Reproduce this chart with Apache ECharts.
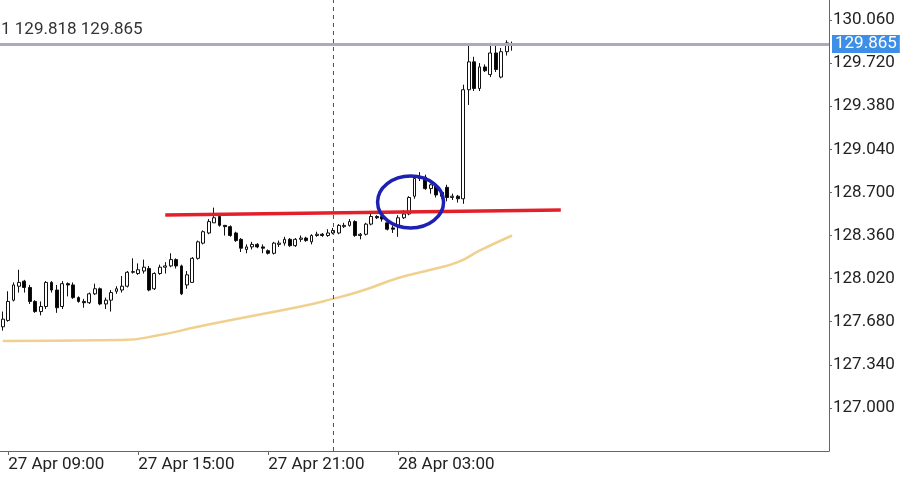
<!DOCTYPE html>
<html><head><meta charset="utf-8">
<script src="https://cdn.jsdelivr.net/npm/echarts@6/dist/echarts.min.js"></script>
<style>html,body{margin:0;padding:0;background:#fff}#c{width:914px;height:491px}</style>
</head><body><div id="c"></div>
<script>
// 15-minute candles starting 27 Apr 08:45
const startLabel = '27 Apr 08:45';
const slotCount = 153;
const tickLabels = ['27 Apr 09:00', '27 Apr 15:00', '27 Apr 21:00', '28 Apr 03:00'];
const daySeparator = '28 Apr 00:00';
const opens  = [127.64,127.69,127.85,127.96,128.00,127.95,127.84,127.76,127.80,127.99,127.93,127.80,127.98,127.97,127.87,127.84,127.83,127.90,127.94,127.82,127.85,127.92,127.93,127.96,128.07,128.06,128.08,128.10,127.94,128.06,128.11,128.12,128.17,128.12,127.97,127.99,128.18,128.30,128.38,128.46,128.51,128.44,128.43,128.38,128.33,128.25,128.27,128.29,128.27,128.24,128.22,128.29,128.30,128.33,128.28,128.33,128.34,128.31,128.36,128.37,128.36,128.38,128.38,128.43,128.44,128.47,128.36,128.37,128.45,128.51,128.51,128.46,128.42,128.44,128.50,128.53,128.67,128.81,128.82,128.73,128.75,128.70,128.74,128.66,128.67,128.65,129.51,129.73,129.52,129.69,129.63,129.80,129.61,129.81,129.86];
const closes = [127.70,127.84,127.97,127.99,127.95,127.84,127.76,127.80,127.99,127.93,127.79,127.98,127.97,127.87,127.84,127.83,127.90,127.94,127.82,127.85,127.91,127.94,127.96,128.07,128.075,128.09,128.11,127.93,128.06,128.11,128.12,128.17,128.12,127.90,128.05,128.18,128.31,128.39,128.47,128.50,128.44,128.43,128.36,128.32,128.26,128.27,128.29,128.27,128.26,128.22,128.30,128.30,128.33,128.28,128.33,128.34,128.32,128.36,128.37,128.36,128.38,128.40,128.44,128.44,128.47,128.36,128.37,128.45,128.51,128.50,128.49,128.41,128.41,128.50,128.53,128.66,128.81,128.82,128.73,128.76,128.68,128.67,128.66,128.67,128.65,129.51,129.73,129.52,129.69,129.66,129.80,129.67,129.81,129.88,129.865];
const lows   = [127.61,127.68,127.84,127.91,127.91,127.82,127.75,127.73,127.78,127.91,127.75,127.78,127.88,127.86,127.83,127.79,127.82,127.89,127.81,127.78,127.76,127.90,127.91,127.95,128.06,128.05,128.06,127.92,127.93,128.05,128.06,128.11,128.10,127.89,127.94,127.99,128.17,128.29,128.37,128.46,128.43,128.36,128.35,128.31,128.23,128.22,128.25,128.26,128.22,128.21,128.21,128.27,128.28,128.27,128.27,128.31,128.31,128.29,128.35,128.35,128.35,128.37,128.37,128.42,128.43,128.35,128.33,128.36,128.44,128.49,128.47,128.40,128.38,128.35,128.49,128.52,128.65,128.79,128.72,128.69,128.66,128.65,128.63,128.64,128.62,128.61,129.39,129.50,129.50,129.65,129.61,129.65,129.60,129.78,129.818];
const highs  = [127.76,127.92,127.99,128.09,128.01,127.97,127.85,127.84,128.00,128.00,127.97,128.00,127.99,127.99,127.88,127.86,127.91,127.98,127.95,127.87,127.93,127.96,128.04,128.08,128.18,128.14,128.17,128.12,128.07,128.13,128.15,128.22,128.18,128.13,128.08,128.19,128.32,128.40,128.49,128.58,128.53,128.44,128.44,128.39,128.34,128.29,128.31,128.30,128.29,128.25,128.31,128.32,128.35,128.34,128.34,128.36,128.35,128.37,128.39,128.38,128.41,128.42,128.45,128.46,128.49,128.48,128.38,128.46,128.53,128.52,128.52,128.47,128.44,128.52,128.56,128.67,128.83,128.86,128.84,128.77,128.77,128.72,128.76,128.69,128.68,129.55,129.86,129.77,129.72,129.71,129.88,129.86,129.84,129.90,129.89];
// moving average, read at candle indices
const maPoints = [[0,127.528],[10,127.53],[22,127.535],[29,127.575],[36,127.64],[46,127.725],[55,127.80],[60,127.85],[66,127.92],[73,128.025],[79,128.09],[84,128.15],[88,128.24],[94,128.36]];
// drawn red support line
const trendLine = [[30,128.522],[103,128.561]];
// ellipse annotation centre [index, price]
const circleCentre = [75, 128.632];
const lastPrice = 129.865;
const headerText = '1 129.818 129.865';
const yTicks = [127.000,127.340,127.680,128.020,128.360,128.700,129.040,129.380,129.720,130.060];

const months = ['Jan','Feb','Mar','Apr','May','Jun','Jul','Aug','Sep','Oct','Nov','Dec'];
const t0 = Date.UTC(2022, 3, 27, 8, 45);
const cats = [];
for (let i = 0; i < slotCount; i++) {
  const d = new Date(t0 + i * 15 * 60000);
  const p = n => String(n).padStart(2, '0');
  cats.push(p(d.getUTCDate()) + ' ' + months[d.getUTCMonth()] + ' ' + p(d.getUTCHours()) + ':' + p(d.getUTCMinutes()));
}
const candles = opens.map((o, i) => [o, closes[i], lows[i], highs[i]]);

const FONT = 'Roboto';
const chart = echarts.init(document.getElementById('c'), null, {renderer: 'canvas'});
chart.setOption({
  animation: false,
  backgroundColor: '#ffffff',
  grid: {left: -1, right: 85, top: 0, bottom: 40},
  xAxis: {
    type: 'category', data: cats, boundaryGap: true,
    axisLine: {show: true, lineStyle: {color: '#666', width: 1}},
    axisTick: {show: true, alignWithLabel: true, length: 4, interval: (i, v) => tickLabels.includes(v), lineStyle: {color: '#666'}},
    axisLabel: {interval: (i, v) => tickLabels.includes(v), align: 'left', margin: 5, fontFamily: FONT, fontSize: 17, color: '#222'},
    splitLine: {show: false}
  },
  yAxis: {
    type: 'value', position: 'right', min: 126.66, max: 130.218, scale: true,
    axisLine: {show: true, lineStyle: {color: '#666', width: 1}},
    axisTick: {show: true, length: 3, customValues: yTicks, lineStyle: {color: '#666'}},
    axisLabel: {customValues: yTicks, formatter: v => v.toFixed(3), margin: 4, fontFamily: FONT, fontSize: 17, color: '#222'},
    splitLine: {show: false}
  },
  series: [
    {
      type: 'line', data: maPoints, smooth: true, symbol: 'none', z: 1,
      lineStyle: {color: '#f0d08e', width: 2.5}
    },
    {
      type: 'candlestick', data: candles, barWidth: '62%', z: 3,
      itemStyle: {color: '#ffffff', color0: '#000000', borderColor: '#111', borderColor0: '#111', borderWidth: 1},
      markLine: {
        symbol: 'none', silent: true, animation: false,
        data: [
          {yAxis: lastPrice, lineStyle: {color: '#b0a8bc', width: 3, type: 'solid'},
           label: {show: true, position: 'end', distance: 3, formatter: lastPrice.toFixed(3), color: '#fff', backgroundColor: '#3d8ee6', padding: [1, 3, 0, 3], fontFamily: FONT, fontSize: 17}},
          {xAxis: daySeparator, lineStyle: {color: '#555', width: 1, type: [4, 4]}, label: {show: false}}
        ]
      }
    },
    {
      type: 'line', data: trendLine, symbol: 'none', z: 4,
      lineStyle: {color: '#e3202a', width: 3.5}
    }
  ]
});
const cp = chart.convertToPixel({gridIndex: 0}, circleCentre);
chart.setOption({
  graphic: [
    {type: 'ellipse', shape: {cx: cp[0] + 1.5, cy: cp[1] + 1, rx: 33, ry: 26}, style: {fill: 'none', stroke: '#1d20b2', lineWidth: 3.5}, z: 100},
    {type: 'text', left: 1, top: 21, style: {text: headerText, font: '17px Roboto', fill: '#333'}, z: 100}
  ]
});
</script></body></html>
